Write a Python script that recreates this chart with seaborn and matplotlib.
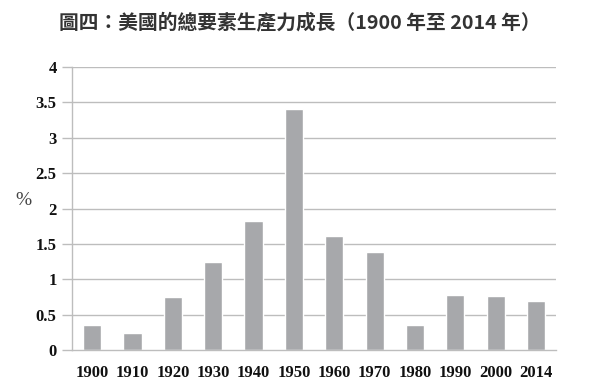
import matplotlib
matplotlib.use("Agg")
import matplotlib.pyplot as plt
import seaborn as sns
import pandas as pd
import numpy as np

years = ["1900", "1910", "1920", "1930", "1940", "1950", "1960", "1970", "1980", "1990", "2000", "2014"]
growth = [0.36, 0.245, 0.745, 1.24, 1.82, 3.40, 1.61, 1.39, 0.35, 0.78, 0.76, 0.69]
yticks = [0, 0.5, 1, 1.5, 2, 2.5, 3, 3.5, 4]
yticklabels = ["0", "0.5", "1", "1.5", "2", "2.5", "3", "3.5", "4"]
title = "圖四：美國的總要素生產力成長（1900 年至 2014 年）"

sns.set_theme(style="white")
plt.rcParams['font.family'] = ['Liberation Serif', 'DejaVu Serif']

df = pd.DataFrame({"year": years, "growth": growth})

fig = plt.figure(figsize=(6, 3.92), dpi=100)
ax = fig.add_axes([0.12, 0.107, 0.807, 0.722])

grid_c = "#bdbdbd"
ax.set_axisbelow(True)
for y in yticks[1:]:
    ax.axhline(y, color=grid_c, lw=1.0, zorder=0)

sns.barplot(data=df, x="year", y="growth", color="#a7a8ab", width=0.45,
            saturation=1, ax=ax, zorder=2)

ax.set_ylim(0, 4)
ax.set_xlim(-0.5, len(years) - 0.5)
ax.set_yticks(yticks)
ax.set_yticklabels(yticklabels, fontsize=12, color="#111111", fontweight="semibold")
ax.set_xticks(range(len(years)))
ax.set_xticklabels(years, fontsize=12, color="#111111", fontweight="semibold")
ax.tick_params(axis="x", length=0, pad=11)
ax.set_xticks(np.arange(0.5, len(years) - 0.5, 1), minor=True)
ax.tick_params(axis="x", which="minor", length=7, color=grid_c, width=1, direction="out")
ax.tick_params(axis="y", length=7, color=grid_c, width=1, direction="out", pad=4, left=True)

for s in ["top", "right"]:
    ax.spines[s].set_visible(False)
for s in ["left", "bottom"]:
    ax.spines[s].set_color(grid_c)
    ax.spines[s].set_linewidth(1.0)

ax.set_xlabel("")
ax.set_ylabel("%", rotation=0, fontsize=14, color="#444444")
ax.yaxis.set_label_coords(-0.1, 0.5)

fig.text(0.5, 0.943, title, ha="center", va="center", fontsize=14.2,
         family=['Noto Sans CJK TC', 'DejaVu Sans'], fontweight="bold", color="#333333")

fig.savefig("out.png", dpi=100)
